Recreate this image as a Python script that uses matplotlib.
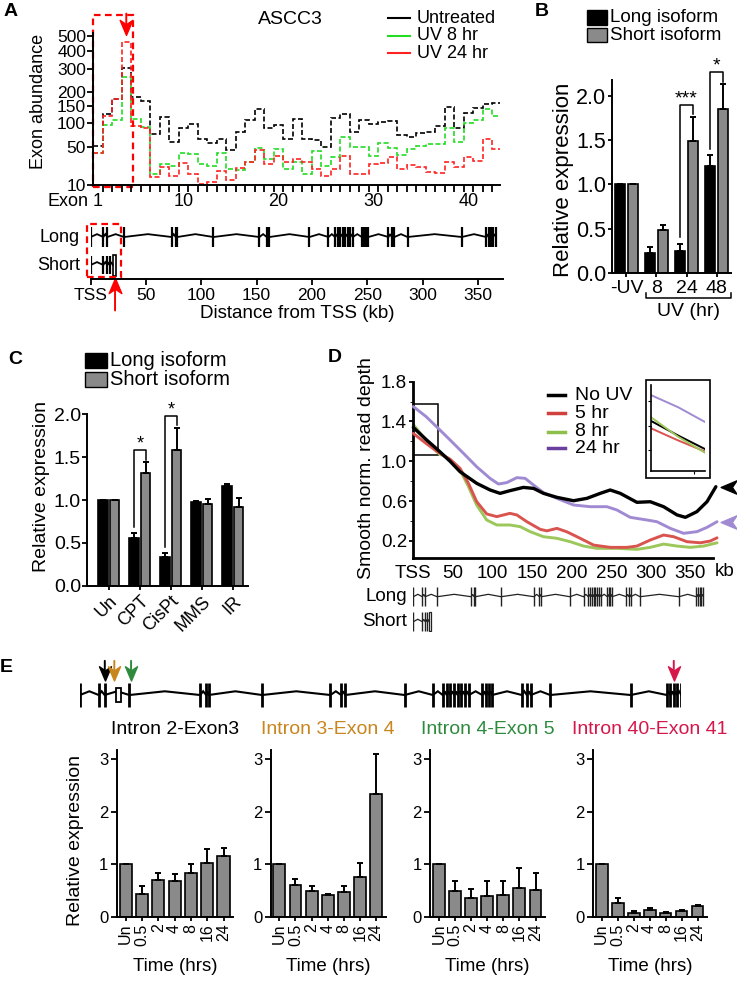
import numpy as np
import matplotlib
matplotlib.use('Agg')
import matplotlib.pyplot as plt
import matplotlib.transforms as mtransforms
from matplotlib.patches import Rectangle
from matplotlib.lines import Line2D
from matplotlib.path import Path
from matplotlib.ticker import NullLocator

plt.rcParams['font.family'] = ['Liberation Sans', 'DejaVu Sans']
plt.rcParams['axes.linewidth'] = 1.4
plt.rcParams['xtick.major.width'] = 1.3
plt.rcParams['ytick.major.width'] = 1.3

# ---------------- data ----------------
# A: exon abundance (exons 1..43)
a_exons = np.arange(1, 44)
a_untreated = [52, 125, 173, 305, 179, 167, 75, 116, 59, 88, 97, 65, 58, 65, 46, 79, 107, 140, 87, 96,
               65, 110, 65, 62, 51, 114, 125, 80, 108, 97, 103, 106, 72, 68, 77, 80, 93, 147, 88, 128,
               141, 155, 158]
a_uv8 = [42, 96, 107, 262, 111, 90, 18, 28, 25.5, 42, 40.5, 27, 25, 42, 22.5, 21, 30, 49, 33.5, 47,
         22.5, 30, 18, 44, 25.5, 36, 69, 51, 51, 37, 58, 48.5, 39, 48, 52, 55, 55.5, 87, 58.5, 100,
         107, 140, 119]
a_uv24 = [42, 118, 173, 460, 92, 88, 15.5, 24.5, 16.5, 29, 17.7, 10.6, 12, 20, 13, 23, 30, 46, 28, 37,
          30, 33, 30, 22.5, 15.8, 22.5, 37, 17.7, 17.7, 28, 29, 36, 22.5, 26, 24.5, 19.5, 18.5, 30, 24.5, 36,
          30.5, 65, 47]
a_names = ['Untreated', 'UV 8 hr', 'UV 24 hr']
a_colors = ['black', '#22dd22', '#ff2222']
a_yticks = [10, 50, 100, 150, 200, 300, 400, 500]
a_xlabels = [1, 10, 20, 30, 40]

# ASCC3 gene model, exon positions in kb from TSS
long_exons = [0, 11.4, 15.0, 30.1, 73.2, 76.8, 78.3, 110.9, 152.5, 159.1, 161.5, 197.7, 214.9,
              220.9, 223.3, 225.4, 227.8, 229.9, 232.3, 234.4, 236.8, 245.0, 247.1, 248.9, 251.0,
              269.1, 272.1, 274.5, 286.3, 335.4, 357.4, 359.5, 361.6, 363.4, 366.2]
short_exons = [0, 11.4, 15.0, 17.0]
short_utr = (19.9, 22.8)
e_utr = (21.7, 25.2)
kb_ticks = [0, 50, 100, 150, 200, 250, 300, 350]
kb_labels = ['TSS', '50', '100', '150', '200', '250', '300', '350']

# B: isoform expression after UV
b_groups = ['-UV', '8', '24', '48']
b_long = [1.0, 0.22, 0.25, 1.21]
b_long_err = [0, 0.07, 0.08, 0.12]
b_short = [1.0, 0.48, 1.49, 1.85]
b_short_err = [0, 0.06, 0.27, 0.28]
b_sig = {2: '***', 3: '*'}

# C: isoform expression after other damage
c_groups = ['Un', 'CPT', 'CisPt', 'MMS', 'IR']
c_long = [1.0, 0.56, 0.33, 0.98, 1.16]
c_long_err = [0, 0.05, 0.05, 0.01, 0.03]
c_short = [1.0, 1.31, 1.58, 0.95, 0.92]
c_short_err = [0, 0.13, 0.26, 0.06, 0.10]
c_sig = {1: '*', 2: '*'}

# D: smoothed read depth along the gene
d_names = ['No UV', '5 hr', '8 hr', '24 hr']
d_colors = ['black', '#d9534f', '#9cc75a', '#a08ad2']
d_legend_colors = ['black', '#d0403c', '#8cc04a', '#6a3fa0']
d_kb_nouv = [0, 16, 31.6, 46.4, 59, 80, 97, 109.6, 122, 139, 151.8, 164.4, 181.3, 202.3, 219.2, 236,
             248.6, 261.3, 282.3, 299.2, 316, 333, 343.5, 358, 370.8, 382]
d_nouv = [1.34, 1.22, 1.11, 1.0, 0.895, 0.778, 0.711, 0.677, 0.704, 0.737, 0.727, 0.677, 0.637, 0.603,
          0.627, 0.677, 0.711, 0.677, 0.587, 0.593, 0.543, 0.46, 0.436, 0.493, 0.593, 0.744]
d_kb_5 = [0, 16, 31.6, 46.4, 59, 69.6, 80, 92.7, 105.4, 122, 130.7, 143.4, 160.3, 168.7, 181.3, 194,
          210.7, 227.6, 248.6, 269.7, 282.3, 299.2, 316, 328.7, 345.5, 362.4, 375, 383.5]
d_5 = [1.28, 1.18, 1.09, 1.02, 0.929, 0.778, 0.594, 0.47, 0.443, 0.476, 0.46, 0.392, 0.315, 0.30,
       0.325, 0.29, 0.225, 0.157, 0.134, 0.134, 0.147, 0.208, 0.258, 0.241, 0.191, 0.18, 0.198, 0.23]
d_kb_8 = [0, 16, 31.6, 46.4, 59, 69.6, 80, 92.7, 105.4, 122, 135, 147.5, 164.4, 181.3, 198.1, 215,
          231.8, 257, 282.3, 299.2, 316, 333, 349.8, 366.6, 383.5]
d_8 = [1.37, 1.21, 1.08, 1.02, 0.912, 0.745, 0.56, 0.409, 0.359, 0.359, 0.342, 0.292, 0.241, 0.225,
       0.191, 0.147, 0.124, 0.124, 0.114, 0.134, 0.167, 0.147, 0.134, 0.147, 0.18]
d_kb_24 = [0, 16, 31.6, 46.4, 63.3, 80, 96.9, 107.5, 118, 130.7, 141.2, 151.8, 164.4, 181.3, 202.3,
           223.3, 244.4, 257, 273.9, 295, 307.6, 324.5, 341.3, 358.2, 370.8, 383.5]
d_24 = [1.55, 1.45, 1.33, 1.214, 1.08, 0.945, 0.828, 0.771, 0.785, 0.835, 0.828, 0.761, 0.684, 0.627,
        0.56, 0.543, 0.543, 0.51, 0.436, 0.409, 0.392, 0.325, 0.275, 0.292, 0.335, 0.392]
d_yticks = [0.2, 0.6, 1.0, 1.4, 1.8]

# E: intron retention time course
e_times = ['Un', '0.5', '2', '4', '8', '16', '24']
e_titles = ['Intron 2-Exon3', 'Intron 3-Exon 4', 'Intron 4-Exon 5', 'Intron 40-Exon 41']
e_colors = ['black', '#c8861e', '#2e8b3e', '#d6174a']
e_arrow_kb = [15.1, 20.9, 31.1, 361.6]
e_i2e3 = [1.0, 0.44, 0.69, 0.67, 0.84, 1.03, 1.15]
e_i2e3_err = [0, 0.15, 0.14, 0.14, 0.16, 0.25, 0.16]
e_i3e4 = [1.0, 0.60, 0.48, 0.41, 0.47, 0.76, 2.33]
e_i3e4_err = [0, 0.11, 0.11, 0.03, 0.11, 0.26, 0.77]
e_i4e5 = [1.0, 0.48, 0.35, 0.40, 0.41, 0.54, 0.51]
e_i4e5_err = [0, 0.19, 0.18, 0.28, 0.27, 0.39, 0.33]
e_i40e41 = [1.0, 0.27, 0.076, 0.127, 0.076, 0.115, 0.21]
e_i40e41_err = [0, 0.08, 0.03, 0.03, 0.013, 0.02, 0.01]

GRAY = '#8a8a8a'

# ---------------- figure helpers ----------------
W, H = 737, 981
fig = plt.figure(figsize=(W / 100, H / 100), dpi=100)


def px_axes(x0, y0, x1, y1):
    return fig.add_axes([x0 / W, 1 - y1 / H, (x1 - x0) / W, (y1 - y0) / H])


def ftext(x, y, s, **kw):
    return fig.text(x / W, 1 - y / H, s, **kw)


def head_marker(angle):
    verts = np.array([(0, -1), (-0.8, 0.9), (0, 0.35), (0.8, 0.9), (0, -1)])
    a = np.deg2rad(angle)
    rot = np.array([[np.cos(a), -np.sin(a)], [np.sin(a), np.cos(a)]])
    return Path(verts @ rot.T, [Path.MOVETO, Path.LINETO, Path.LINETO, Path.LINETO, Path.CLOSEPOLY])


def arrow(ax, x, y, trans, color, direction, ms, stem=0):
    angle = {'down': 0, 'up': 180, 'left': -90}[direction]
    ux, uy = {'down': (0, 1), 'up': (0, -1), 'left': (1, 0)}[direction]
    off = mtransforms.ScaledTranslation(ux * ms / 2 / 72, uy * ms / 2 / 72, fig.dpi_scale_trans)
    ax.plot([x], [y], ls='none', marker=head_marker(angle), ms=ms, color=color,
            transform=trans + off, clip_on=False)
    if stem:
        ax.annotate('', xy=(x, y), xycoords=trans, xytext=(ux * (ms + stem), uy * (ms + stem)),
                    textcoords='offset points',
                    arrowprops=dict(arrowstyle='-', color=color, lw=1.4, shrinkA=0, shrinkB=ms * 0.7))


def draw_gene(ax, marks, y, h, peak, lw_mark, lw_line, line_end=None, color='black'):
    nodes = list(marks) + ([line_end] if line_end is not None else [])
    xs, ys = [nodes[0]], [y]
    for a, b in zip(nodes[:-1], nodes[1:]):
        xs += [(a + b) / 2, b]
        ys += [y + peak, y]
    ax.plot(xs, ys, color=color, lw=lw_line, solid_joinstyle='miter')
    ax.vlines(marks, y - h, y + h, color=color, lw=lw_mark)


def clean(ax, keep=('left', 'bottom')):
    for s in ['left', 'right', 'top', 'bottom']:
        ax.spines[s].set_visible(s in keep)


def sig_bracket(ax, i, off, long_cap, short_cap, label, fs):
    top = short_cap + 0.14
    ax.plot([i - off, i - off, i + off, i + off], [long_cap + 0.07, top, top, short_cap + 0.03],
            color='black', lw=1.1, clip_on=False)
    ax.text(i, top - 0.03, label, ha='center', va='bottom', fontsize=fs, clip_on=False)


def square_legend(x, y0, dy, size, fs, labels, colors):
    for k, (lab, col) in enumerate(zip(labels, colors)):
        y = y0 + k * dy
        fig.add_artist(Rectangle((x / W, 1 - (y + size[1] / 2) / H), size[0] / W, size[1] / H,
                                 transform=fig.transFigure, fc=col, ec='black', lw=1.0))
        ftext(x + size[0] + 3, y, lab, fontsize=fs, va='center')


# ---------------- panel A ----------------
pw = 0.365
ax = px_axes(93, 33, 500, 185)
ax.set_yscale('function', functions=(lambda v: np.abs(v) ** pw, lambda v: np.abs(v) ** (1 / pw)))
edges = np.append(a_exons - 0.5, a_exons[-1] + 0.5)
for vals, col in zip([a_untreated, a_uv8, a_uv24], a_colors):
    ax.stairs(vals, edges, baseline=None, color=col, lw=1.2, ls=(0, (3, 1.5)))
ax.set_xlim(0.5, 43.3)
ax.set_ylim(10, 520)
ax.set_yticks(a_yticks, [str(v) for v in a_yticks])
ax.yaxis.set_minor_locator(NullLocator())
ax.set_xticks(edges[1:-1], [])
ax.set_xticks(a_xlabels, [str(v) for v in a_xlabels], minor=True)
ax.tick_params(axis='x', which='major', length=5, direction='out')
ax.tick_params(axis='x', which='minor', length=0, pad=5.5, labelsize=13)
ax.tick_params(axis='y', length=4, pad=1, labelsize=12.5)
ax.annotate('Exon', xy=(1, 0), xycoords=('data', 'axes fraction'), xytext=(-7, -5.5),
            textcoords='offset points', ha='right', va='top', fontsize=13)
clean(ax)
bt = mtransforms.blended_transform_factory(ax.transData, ax.transAxes)
ax.add_patch(Rectangle((0.45, -0.013), 4.25, 1.131, transform=bt, fill=False, ec='red',
                       lw=1.6, ls=(0, (3, 2)), clip_on=False))
arrow(ax, 4, 0.987, bt, 'red', 'down', 11.4, stem=4)
ftext(290, 20, 'ASCC3', fontsize=14, ha='center', va='center')
ftext(38.5, 101, 'Exon abundance', rotation=90, ha='center', va='center', fontsize=13)
for k, (lab, col) in enumerate(zip(a_names, a_colors)):
    y = 18.3 + 17.5 * k
    fig.add_artist(Line2D([388 / W, 410 / W], [1 - y / H] * 2, color=col, lw=1.5))
    ftext(417, y, lab, fontsize=13, va='center')

axg = px_axes(90.7, 222, 503, 279.3)
axg.set_xlim(0, 372.6)
axg.set_ylim(0, 1)
clean(axg, keep=('bottom',))
axg.set_yticks([])
axg.set_xticks(kb_ticks, kb_labels)
axg.tick_params(axis='x', length=4, pad=2, labelsize=12.5)
draw_gene(axg, long_exons, 0.738, 0.175, 0.05, 1.6, 1.3)
draw_gene(axg, short_exons, 0.25, 0.165, 0.05, 1.6, 1.3, line_end=short_utr[0])
axg.add_patch(Rectangle((short_utr[0], 0.058), short_utr[1] - short_utr[0], 0.366,
                        fill=False, ec='black', lw=1.2))
axg.add_patch(Rectangle((-3.6, 0.045), 30.6, 0.92, fill=False, ec='red', lw=1.6,
                        ls=(0, (3, 2)), clip_on=False))
arrow(axg, 22, 0.023, axg.transData, 'red', 'up', 11.4, stem=12)
ftext(80, 237, 'Long', ha='right', va='center', fontsize=13)
ftext(80, 265, 'Short', ha='right', va='center', fontsize=13)
ftext(297, 314, 'Distance from TSS (kb)', ha='center', va='center', fontsize=13.5)
ftext(11, 11, 'A', fontsize=14, fontweight='bold', ha='center', va='center')

# ---------------- panel B ----------------
axb = px_axes(611.7, 80, 730.7, 272.7)
xb = np.arange(len(b_groups))
off, bw = 0.217, 0.333
axb.bar(xb - off, b_long, bw, color='black', edgecolor='black', lw=1.2)
axb.bar(xb + off, b_short, bw, color=GRAY, edgecolor='black', lw=1.2)
for xs, v, e in [(xb - off, b_long, b_long_err), (xb + off, b_short, b_short_err)]:
    axb.errorbar(xs, v, yerr=[np.zeros(len(v)), e], fmt='none', ecolor='black',
                 elinewidth=1.4, capsize=2.5, capthick=1.4)
axb.set_xlim(-0.493, 3.473)
axb.set_ylim(0, 2.18)
axb.set_yticks([0, 0.5, 1.0, 1.5, 2.0], ['0.0', '0.5', '1.0', '1.5', '2.0'])
axb.set_xticks(xb, b_groups)
axb.tick_params(axis='y', length=3, pad=1, labelsize=15.5)
axb.tick_params(axis='x', length=3, pad=2, labelsize=14)
clean(axb)
for i, lab in b_sig.items():
    sig_bracket(axb, i, off, b_long[i] + b_long_err[i], b_short[i] + b_short_err[i], lab, 14)
bbt = mtransforms.blended_transform_factory(axb.transData, axb.transAxes)
axb.plot([0.65, 0.65, 3.47, 3.47], [-0.105, -0.131, -0.131, -0.105], color='black', lw=1.1,
         transform=bbt, clip_on=False)
axb.text(2.06, -0.2, 'UV (hr)', transform=bbt, ha='center', va='center', fontsize=14)
ftext(563, 180, 'Relative expression', rotation=90, ha='center', va='center', fontsize=16)
square_legend(587, 17.5, 17.5, (20, 14), 13.5, ['Long isoform', 'Short isoform'], ['black', GRAY])
ftext(541.5, 12, 'B', fontsize=14, fontweight='bold', ha='center', va='center')

# ---------------- panel C ----------------
axc = px_axes(87.3, 414.3, 248.3, 585.7)
xc = np.arange(len(c_groups))
off, bw = 0.184, 0.306
axc.bar(xc - off, c_long, bw, color='black', edgecolor='black', lw=1.2)
axc.bar(xc + off, c_short, bw, color=GRAY, edgecolor='black', lw=1.2)
for xs, v, e in [(xc - off, c_long, c_long_err), (xc + off, c_short, c_short_err)]:
    axc.errorbar(xs, v, yerr=[np.zeros(len(v)), e], fmt='none', ecolor='black',
                 elinewidth=1.4, capsize=2.5, capthick=1.4)
axc.set_xlim(-0.694, 4.5)
axc.set_ylim(0, 2.0)
axc.set_yticks([0, 0.5, 1.0, 1.5, 2.0], ['0.0', '0.5', '1.0', '1.5', '2.0'])
axc.set_xticks(xc, c_groups, rotation=45, ha='right', va='top', rotation_mode='anchor')
axc.tick_params(axis='y', length=3.5, pad=1, labelsize=14)
axc.tick_params(axis='x', length=3, pad=2, labelsize=13)
clean(axc)
for i, lab in c_sig.items():
    sig_bracket(axc, i, off, c_long[i] + c_long_err[i], c_short[i] + c_short_err[i], lab, 13)
ftext(42, 486, 'Relative expression', rotation=90, ha='center', va='center', fontsize=14)
square_legend(85, 360.5, 19, (22, 15), 14.5, ['Long isoform', 'Short isoform'], ['black', GRAY])
ftext(15, 359, 'C', fontsize=14, fontweight='bold', ha='center', va='center')

# ---------------- panel D ----------------
axd = px_axes(413.3, 381.7, 712.7, 558.3)
d_series = [(d_kb_nouv, d_nouv), (d_kb_5, d_5), (d_kb_8, d_8), (d_kb_24, d_24)]
for (kb, v), col, z in zip(d_series, d_colors, [5, 3, 2, 4]):
    axd.plot(kb, v, color=col, lw=2.4 if col == 'black' else 2.1, zorder=z, clip_on=False,
             solid_joinstyle='round', solid_capstyle='round')
axd.set_xlim(0, 378)
axd.set_ylim(0.024, 1.8)
axd.set_yticks(d_yticks, ['%.1f' % v for v in d_yticks])
axd.set_yticks([0.4, 0.8, 1.2, 1.6], minor=True)
axd.set_xticks(kb_ticks, kb_labels)
axd.tick_params(axis='y', which='major', length=3, pad=1.5, labelsize=13.5)
axd.tick_params(axis='y', which='minor', length=2)
axd.tick_params(axis='x', length=0, pad=4.5, labelsize=13.5)
clean(axd)
for s in ['left', 'bottom']:
    axd.spines[s].set_linewidth(2)
axd.add_patch(Rectangle((0, 1.063), 31.6, 0.513, fill=False, ec='black', lw=1.1))
for (kb, v), col in zip([d_series[0], d_series[3]], [d_colors[0], d_colors[3]]):
    arrow(axd, 388, v[-1], axd.transData, col, 'left', 12)
ftext(715, 571.7, 'kb', ha='left', va='center', fontsize=13.5)
ftext(366.5, 468.5, 'Smooth norm. read depth', rotation=90, ha='center', va='center', fontsize=14)
for k, (lab, col) in enumerate(zip(d_names, d_legend_colors)):
    y = [395, 413.3, 431.7, 448.3][k]
    fig.add_artist(Line2D([548 / W, 565 / W], [1 - y / H] * 2, color=col, lw=2.5))
    ftext(575, y, lab, fontsize=14, va='center')

fig.add_artist(Rectangle((646 / W, 1 - 478.3 / H), 64 / W, 98.3 / H, transform=fig.transFigure,
                         fill=False, ec='black', lw=1.2))
axi = px_axes(650.7, 385, 705, 470.7)
for (kb, v), col in zip(d_series, d_colors):
    axi.plot(kb, v, color=col, lw=1.4)
axi.set_xlim(0, 31.6)
axi.set_ylim(0.934, 1.631)
axi.set_xticks([25], [])
axi.set_yticks([1.1, 1.3, 1.5], [])
axi.tick_params(length=2, width=0.8)
clean(axi)
for s in ['left', 'bottom']:
    axi.spines[s].set_linewidth(1.2)
axi.patch.set_alpha(0)

axdg = px_axes(413.3, 584, 712.7, 632)
axdg.set_xlim(0, 378)
axdg.set_ylim(0, 1)
axdg.axis('off')
draw_gene(axdg, long_exons, 0.735, 0.2, 0.05, 1.0, 0.9, color='#222222')
draw_gene(axdg, short_exons, 0.215, 0.2, 0.05, 1.0, 0.9, line_end=short_utr[0], color='#222222')
axdg.add_patch(Rectangle((short_utr[0], 0.02), short_utr[1] - short_utr[0], 0.4,
                         fill=False, ec='#222222', lw=0.9))
ftext(407, 596.7, 'Long', ha='right', va='center', fontsize=13.5)
ftext(407, 622, 'Short', ha='right', va='center', fontsize=13.5)
ftext(335, 357.5, 'D', fontsize=14, fontweight='bold', ha='center', va='center')

# ---------------- panel E ----------------
axeg = px_axes(80, 650, 681, 712)
axeg.set_xlim(0, 366)
axeg.set_ylim(0, 1)
axeg.axis('off')
draw_gene(axeg, long_exons, 0.274, 0.194, 0.06, 2.0, 1.5)
axeg.add_patch(Rectangle((e_utr[0], 0.154), e_utr[1] - e_utr[0], 0.24, fc='white',
                         ec='black', lw=1.3, zorder=3))
for kb, col in zip(e_arrow_kb, e_colors):
    arrow(axeg, kb, 0.516, axeg.transData, col, 'down', 10.8, stem=3)
ftext(6, 668, 'E', fontsize=14, fontweight='bold', ha='center', va='center')

e_vals = [e_i2e3, e_i3e4, e_i4e5, e_i40e41]
e_errs = [e_i2e3_err, e_i3e4_err, e_i4e5_err, e_i40e41_err]
e_boxes = [(116.7, 233.3), (270.5, 385.7), (430, 545.2), (592.9, 707.1)]
xe = np.arange(len(e_times))
for (x0, x1), vals, errs, title, col in zip(e_boxes, e_vals, e_errs, e_titles, e_colors):
    axe = px_axes(x0, 750, x1, 916.7)
    axe.bar(xe, vals, 0.74, color=GRAY, edgecolor='black', lw=1.2)
    axe.errorbar(xe, vals, yerr=[np.zeros(len(vals)), errs], fmt='none', ecolor='black',
                 elinewidth=1.4, capsize=2.5, capthick=1.4)
    axe.set_xlim(-0.55, 6.6)
    axe.set_ylim(0, 3.17)
    axe.set_yticks([0, 1, 2, 3], ['0', '1', '2', '3'])
    axe.set_xticks(xe, e_times, rotation=90, va='top', ha='center')
    axe.tick_params(axis='y', length=4, pad=2, labelsize=12)
    axe.tick_params(axis='x', length=3, pad=2, labelsize=11.5)
    clean(axe)
    axe.text(0.5, 1.12, title, transform=axe.transAxes, ha='center', va='center', color=col,
             fontsize=14)
    axe.text(0.5, -0.30, 'Time (hrs)', transform=axe.transAxes, ha='center', va='center',
             fontsize=13.5)
ftext(75, 840, 'Relative expression', rotation=90, ha='center', va='center', fontsize=14)

fig.savefig('out.png', dpi=100)
